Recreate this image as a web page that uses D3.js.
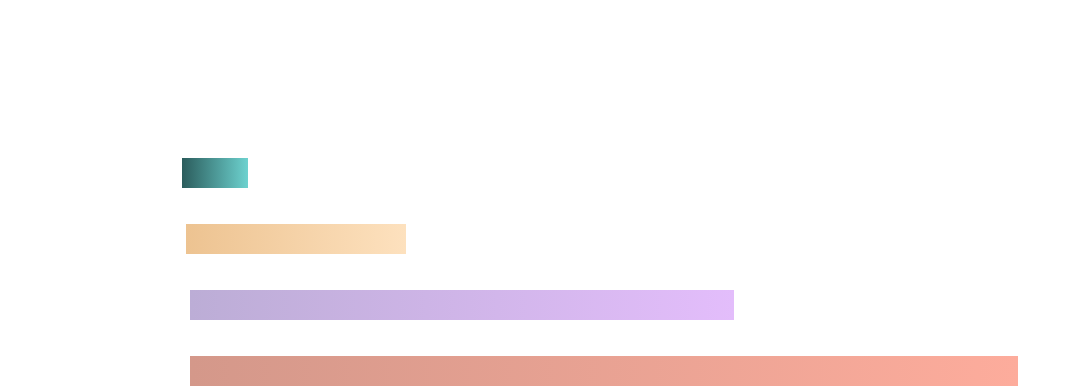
<!DOCTYPE html>
<html>
<head>
<meta charset="utf-8">
<script src="https://cdn.jsdelivr.net/npm/d3@7"></script>
<style>
  html, body { margin: 0; padding: 0; background: #fff; }
  #bar-chart { width: 1088px; height: 388px; }
</style>
</head>
<body>
<div id="bar-chart"></div>
<script>
// Chart data
const categories = ['A', 'B', 'C', 'D'];
const startValues = [0, 0.5, 1, 1];
const endValues = [7.9, 26.8, 66, 100];
const colorsFrom = ['#2b5c5c', '#edc391', '#bcadd6', '#d4988a'];
const colorsTo = ['#6dd2cf', '#fde1be', '#e3bdfb', '#fdac9c'];

const rows = categories.map((c, i) => ({
    name: c,
    start: startValues[i],
    end: endValues[i],
    from: colorsFrom[i],
    to: colorsTo[i]
}));

// Dimensions
const width = 1088, height = 388;

const svg = d3.select('#bar-chart')
    .append('svg')
    .attr('width', width)
    .attr('height', height);

// Scales
const xScale = d3.scaleLinear()
    .domain([0, 100])
    .range([182, 1018]);

const yScale = d3.scaleBand()
    .domain(categories)
    .range([158, 386])
    .paddingInner(36 / 66)
    .paddingOuter(0);

// Gradients, one per bar
const defs = svg.append('defs');
const grads = defs.selectAll('linearGradient')
    .data(rows)
    .enter()
    .append('linearGradient')
    .attr('id', (d, i) => 'grad-' + i)
    .attr('x1', '0%').attr('x2', '100%')
    .attr('y1', '0%').attr('y2', '0%');

grads.append('stop').attr('offset', '0%').attr('stop-color', d => d.from);
grads.append('stop').attr('offset', '100%').attr('stop-color', d => d.to);

// Bars
svg.selectAll('.bar')
    .data(rows)
    .enter()
    .append('rect')
    .attr('class', 'bar')
    .attr('x', d => xScale(d.start))
    .attr('y', d => yScale(d.name))
    .attr('width', d => xScale(d.end) - xScale(d.start))
    .attr('height', yScale.bandwidth())
    .attr('fill', (d, i) => `url(#grad-${i})`)
    .attr('shape-rendering', 'crispEdges');
</script>
</body>
</html>
